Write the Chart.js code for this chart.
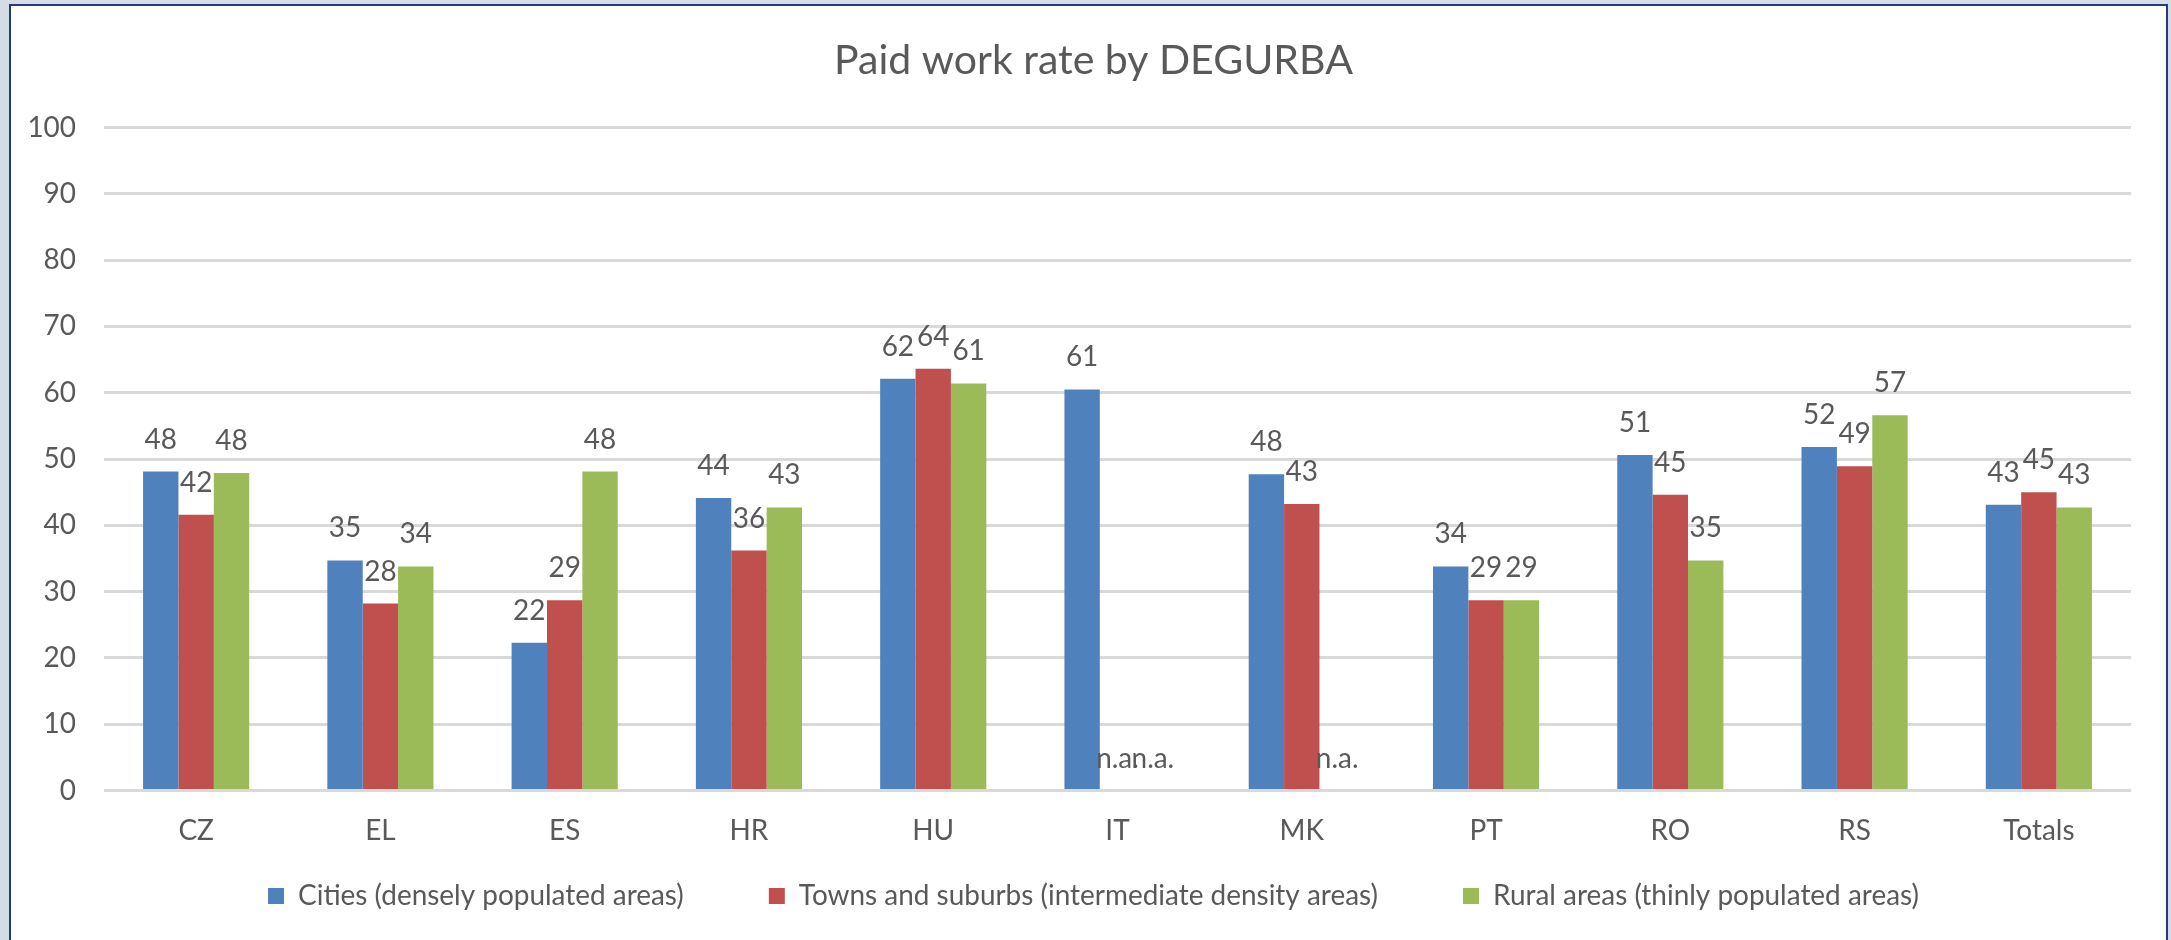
<!DOCTYPE html>
<html>
<head>
<meta charset="utf-8">
<script src="https://cdn.jsdelivr.net/npm/chart.js@4.4.1/dist/chart.umd.min.js"></script>
<style>
  html, body { margin: 0; padding: 0; background: #d6dce5; width: 2171px; height: 940px; overflow: hidden; }
  #frame { position: absolute; left: 9px; top: 4px; width: 2159px; height: 1000px; box-sizing: border-box;
           border: 2px solid #1f3d78; background: #ffffff; }
  #c { position: absolute; left: 0; top: 0; }
</style>
</head>
<body>
<div id="frame"></div>
<canvas id="c" width="2171" height="940"></canvas>
<script>
// ---- data ----
const title = 'Paid work rate by DEGURBA';
const categories = ['CZ', 'EL', 'ES', 'HR', 'HU', 'IT', 'MK', 'PT', 'RO', 'RS', 'Totals'];
const seriesNames = [
  'Cities (densely populated areas)',
  'Towns and suburbs (intermediate density areas)',
  'Rural areas (thinly populated areas)'
];
const cities = [48.1, 34.7, 22.3, 44.1, 62.1, 60.5, 47.7, 33.8, 50.6, 51.8, 43.1];
const towns  = [41.6, 28.2, 28.7, 36.2, 63.6, null, 43.2, 28.7, 44.6, 48.9, 45.0];
const rural  = [47.9, 33.8, 48.1, 42.7, 61.4, null, null, 28.7, 34.7, 56.6, 42.7];
const yTicks = [0, 10, 20, 30, 40, 50, 60, 70, 80, 90, 100];
const missingLabel = 'n.a.';
const colors = ['#4F81BD', '#C0504D', '#9BBB59'];

// ---- font sizing (Lato in place of Calibri) ----
const FAMILY = 'Lato';
function fitSize(text, target) {
  const ctx = document.createElement('canvas').getContext('2d');
  ctx.font = '100px ' + FAMILY;
  return 100 * target / ctx.measureText(text).width;
}
const fs = fitSize(seriesNames[0], 386);
const ts = fitSize(title, 519);
const TEXT = '#595959';

const W = 2171, H = 940;
const L = 16;
const plotLeft = 104, plotRight = 2131, plotTop = 127.5, plotBottom = 790.5;
const legendCenter = 896, legendPad = 85;
const titleCenter = 61;
const xLabelCenter = 831;
const tA = titleCenter - 0.6 * ts;
const tB = plotTop - tA - 1.2 * ts;
const legendTop = legendCenter - legendPad - fs / 2;
const bottomPad = H - (legendTop + fs + legendPad + 10);

Chart.defaults.font.family = FAMILY;
Chart.defaults.color = TEXT;

const labelPlugin = {
  id: 'valueLabels',
  afterDatasetsDraw(chart) {
    const ctx = chart.ctx;
    const yScale = chart.scales.y;
    ctx.save();
    ctx.font = fs + 'px ' + FAMILY;
    ctx.fillStyle = TEXT;
    ctx.textAlign = 'center';
    ctx.textBaseline = 'middle';
    chart.data.datasets.forEach((ds, di) => {
      const meta = chart.getDatasetMeta(di);
      meta.data.forEach((el, i) => {
        const v = ds.data[i];
        const missing = (v === null || v === undefined);
        const txt = missing ? missingLabel : String(Math.round(v));
        const y = missing ? yScale.getPixelForValue(0) : el.y;
        ctx.fillText(txt, el.x, y - 32);
      });
    });
    ctx.restore();
  }
};

new Chart(document.getElementById('c'), {
  type: 'bar',
  data: {
    labels: categories,
    datasets: [
      { label: seriesNames[0], data: cities, backgroundColor: colors[0] },
      { label: seriesNames[1], data: towns,  backgroundColor: colors[1] },
      { label: seriesNames[2], data: rural,  backgroundColor: colors[2] }
    ]
  },
  options: {
    responsive: false,
    animation: false,
    devicePixelRatio: 1,
    layout: { padding: { left: L, right: 0, top: 0, bottom: bottomPad } },
    datasets: { bar: { categoryPercentage: 0.576, barPercentage: 1.0 } },
    plugins: {
      title: {
        display: true, text: title, color: TEXT,
        font: { family: FAMILY, size: ts, weight: 'normal', lineHeight: 1.2 },
        padding: { top: tA, bottom: tB }
      },
      legend: {
        display: true, position: 'bottom',
        labels: {
          boxWidth: 16, boxHeight: 16, padding: legendPad, color: TEXT,
          font: { family: FAMILY, size: fs }
        }
      },
      tooltip: { enabled: false }
    },
    scales: {
      x: {
        grid: { display: false, drawTicks: false },
        border: { display: false },
        ticks: { color: TEXT, font: { size: fs, lineHeight: 1.2 }, mirror: true,
                 padding: -((xLabelCenter - plotBottom) + 0.6 * fs) },
        afterFit(scale) { scale.height = legendTop - plotBottom; }
      },
      y: {
        min: 0, max: 100,
        afterBuildTicks(scale) { scale.ticks = yTicks.map(v => ({ value: v })); },
        grid: { color: '#D9D9D9', lineWidth: 3, drawTicks: false },
        border: { display: false },
        ticks: { color: TEXT, font: { size: fs }, padding: 28 },
        afterFit(scale) { scale.width = plotLeft - L; }
      },
      y2: {
        type: 'linear', position: 'right', display: true,
        grid: { display: false, drawTicks: false },
        border: { display: false },
        ticks: { display: false },
        afterFit(scale) { scale.width = W - plotRight; }
      }
    }
  },
  plugins: [labelPlugin]
});
</script>
</body>
</html>
